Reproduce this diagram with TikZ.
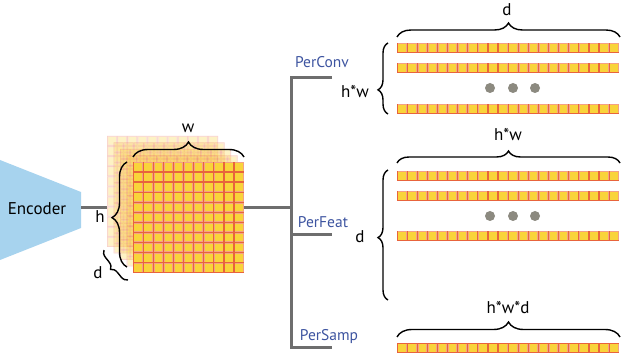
\documentclass[tikz,border=0pt]{standalone}
\usepackage{fontspec}
\setmainfont{PT Sans}
\usepackage{tikz}
\usetikzlibrary{decorations.pathreplacing}
\usepackage{xcolor}
\definecolor{encblue}{RGB}{167,211,238}
\definecolor{celledge}{RGB}{232,100,60}
\definecolor{cellpink}{RGB}{244,161,132}
\definecolor{cellfill}{RGB}{249,212,58}
\definecolor{trunkgray}{RGB}{110,110,110}
\definecolor{lblblue}{RGB}{61,84,160}
\definecolor{dotgray}{RGB}{140,138,128}

\def\cellsz{10.1}
\newcommand{\cellsq}[2]{%
  \fill[celledge] (#1,#2) rectangle ++(\cellsz,\cellsz);
  \fill[cellpink] ({#1+0.6},{#2+0.6}) rectangle ++({\cellsz-1.2},{\cellsz-1.2});
  \fill[cellfill] ({#1+1.3},{#2+1.3}) rectangle ++({\cellsz-2.6},{\cellsz-2.6});}
\newcommand{\featgrid}[2]{%
  \foreach \i in {0,...,10}{\foreach \j in {0,...,10}{\cellsq{#1+\i*\cellsz}{#2+\j*\cellsz}}}}
\newcommand{\cellrow}[2]{%
  \foreach \i in {0,...,21}{\cellsq{#1+\i*\cellsz}{#2}}}

\tikzset{
  trunk/.style={trunkgray,line width=3pt},
  curly/.style={decorate,decoration={brace,amplitude=#1},line width=1.4pt},
  curly/.default=13pt,
  dimlbl/.style={font=\fontsize{17}{19}\selectfont},
  branchlbl/.style={font=\fontsize{15.5}{17}\selectfont,text=lblblue},
}

\begin{document}
\begin{tikzpicture}[x=1pt,y=1pt]
    \useasboundingbox (0,0) rectangle (622,354);
    % encoder
    \fill[encblue] (0,194) -- (81,162) -- (81,126) -- (0,94) -- cycle;
    \node[font=\fontsize{17}{19}\selectfont] (encoder) at (37,145) {Encoder};
    \coordinate (encout) at (81,146);
    \coordinate (gridin) at (107,146);
    \coordinate (gridout) at (244,146);
    \coordinate (split) at (291,146);
    \draw[trunk] (encout) -- (gridin);
    % feature map, back layers then front
    \foreach \k in {4,3,2,1}{
      \begin{scope}[opacity=0.3,transparency group]
        \featgrid{133-\k*6.5}{81+\k*6.5}
      \end{scope}}
    \featgrid{133}{81}
    \draw[curly=15pt] (133,197) -- (244,197);
    \node[dimlbl] (wlbl) at (188,226) {w};
    \draw[curly=15pt,decoration={aspect=0.47}] (127,87) -- (127,192);
    \node[dimlbl] (hlbl) at (100,137) {h};
    \draw[curly=7pt] (128,74) -- (104,104);
    \node[dimlbl] (dlbl) at (98,81) {d};
    % branches
    \coordinate (convcorner) at (291,276);
    \coordinate (convend) at (332,276);
    \coordinate (featcorner) at (291,119);
    \coordinate (featend) at (332,119);
    \coordinate (sampcorner) at (291,7);
    \coordinate (sampend) at (332,7);
    \draw[trunk] (gridout) -- (split);
    \draw[trunk] (convend) -- (convcorner) -- (sampcorner) -- (sampend);
    \draw[trunk] (featcorner) -- (featend);
    \node[branchlbl] (convlbl) at (322,292) {PerConv};
    \node[branchlbl] (featlbl) at (323,132) {PerFeat};
    \node[branchlbl] (samplbl) at (329,17) {PerSamp};
    % PerConv
    \cellrow{397}{301}
    \cellrow{397}{281}
    \cellrow{397}{240}
    \foreach \x in {490,513,535} \fill[dotgray] (\x,266) circle (5);
    \draw[curly=14pt] (397,317) -- (620,317);
    \node[dimlbl] (convd) at (507,344) {d};
    \draw[curly=10pt,decoration={aspect=0.34}] (388,240) -- (388,311);
    \node[dimlbl] (convhw) at (355,262) {h*w};
    % PerFeat
    \cellrow{397}{173}
    \cellrow{397}{153}
    \cellrow{397}{113}
    \foreach \x in {490,513,535} \fill[dotgray] (\x,138) circle (5);
    \draw[curly=12pt] (397,191) -- (620,191);
    \node[dimlbl] (feathw) at (508,219) {h*w};
    \draw[curly=10pt,decoration={aspect=0.48}] (388,54) -- (388,184);
    \node[dimlbl] (featd) at (360,117) {d};
    % PerSamp
    \cellrow{397}{1}
    \draw[curly=15pt] (397,17) -- (620,17);
    \node[dimlbl] (samphwd) at (508,46) {h*w*d};
\end{tikzpicture}
\end{document}
